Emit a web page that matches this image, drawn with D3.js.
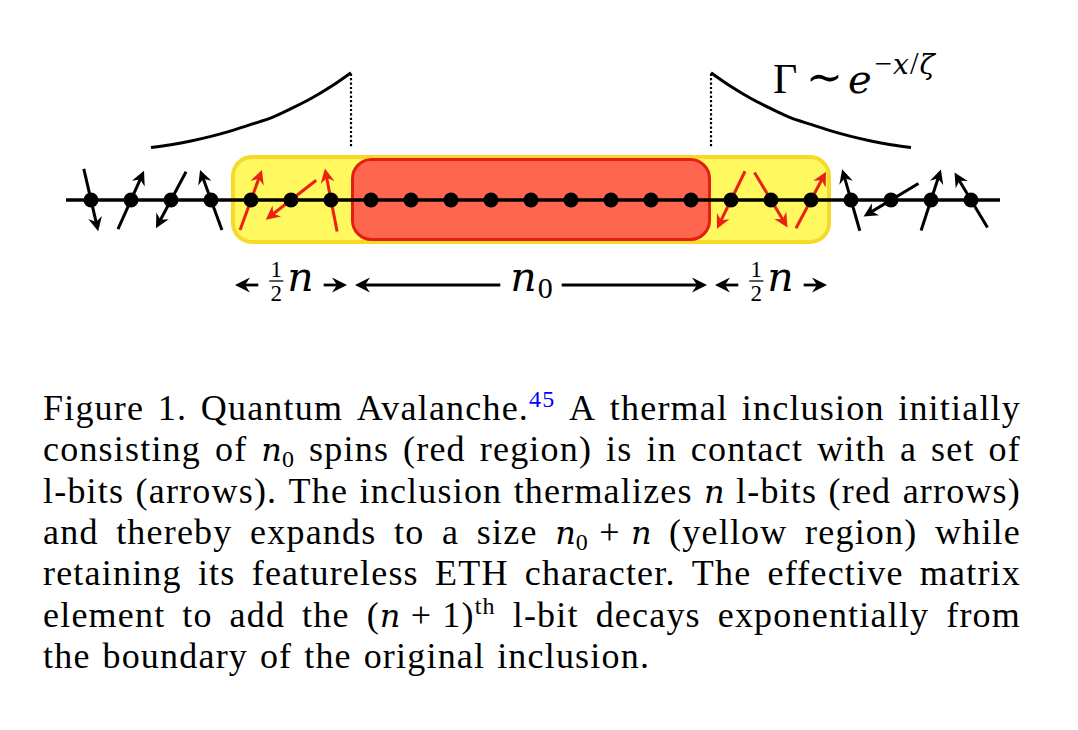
<!DOCTYPE html>
<html>
<head>
<meta charset="utf-8">
<script src="https://cdn.jsdelivr.net/npm/d3@7"></script>
<style>
  body { margin: 0; background: #fff; }
  text { font-family: "Liberation Serif", "DejaVu Serif", serif; white-space: pre; }
  .mi { font-family: "DejaVu Serif", serif; font-style: italic; }
</style>
</head>
<body>
<svg id="fig" width="1078" height="730"></svg>
<script>
// spin angles in degrees, clockwise from "up"; null = site inside the original inclusion
const spinAngles = [167, 24, 208, -20, 20, 232, -11,
  null, null, null, null, null, null, null, null, null,
  206, 149, 28, -16, 239, 18, -31];
// which l-bits got thermalized (drawn red)
const thermalized = [4, 5, 6, 16, 17, 18];

// regions in site units (boundaries sit half way between sites)
const yellowRegion = [3.5, 18.5];
const redRegion = [6.5, 15.5];

// decay of the matrix element, distance from boundary (sites) vs Gamma
const decayDist = [0, 0.5, 1, 1.5, 2, 2.5, 3, 3.5, 4, 4.5, 5];
const decayGamma = [1.00, 0.85, 0.72, 0.61, 0.51, 0.44, 0.37, 0.31, 0.26, 0.22, 0.19];

// size labels under the chain
const spanLabels = [
  { from: 3.5, to: 6.5, label: "half" },
  { from: 6.5, to: 15.5, label: "n0" },
  { from: 15.5, to: 18.5, label: "half" }
];

const R = t => ({ t, k: "rm" }), I = t => ({ t, k: "it" }),
  SUB = t => ({ t, k: "sub" }), SUP = (t, c) => ({ t, k: "sup", c });

const captionLines = [
  ["Figure", "1.", "Quantum", [R("Avalanche."), SUP("45", "#0000ff")], "A", "thermal", "inclusion", "initially"],
  ["consisting", "of", [I("n"), SUB("0")], "spins", "(red", "region)", "is", "in", "contact", "with", "a", "set", "of"],
  ["l-bits", "(arrows).", "The", "inclusion", "thermalizes", [I("n")], "l-bits", "(red", "arrows)"],
  ["and", "thereby", "expands", "to", "a", "size", [I("n"), SUB("0"), R(" + "), I("n")], "(yellow", "region)", "while"],
  ["retaining", "its", "featureless", "ETH", "character.", "The", "effective", "matrix"],
  ["element", "to", "add", "the", [R("("), I("n"), R(" + 1)"), SUP("th")], "l-bit", "decays", "exponentially", "from"],
  ["the", "boundary", "of", "the", "original", "inclusion."]
];

const svg = d3.select("#fig");
const chainY = 200;
const red = "#ea2212";

const xScale = d3.scaleLinear().domain([0, spinAngles.length - 1]).range([91, 971]);
const gammaY = d3.scaleLinear().domain([0, 1]).range([165, 72.7]);

// arrow head helper: tip point + unit direction
function headPath(tx, ty, ux, uy, L = 13, W = 6.5, N = 9) {
  const px = -uy, py = ux;
  return `M${tx},${ty}L${tx - L * ux + W * px},${ty - L * uy + W * py}` +
    `L${tx - N * ux},${ty - N * uy}L${tx - L * ux - W * px},${ty - L * uy - W * py}Z`;
}

// regions
function region(r, y0, y1, fill, stroke, sw) {
  svg.append("rect")
    .attr("x", xScale(r[0]) + sw / 2).attr("y", y0 + sw / 2)
    .attr("width", xScale(r[1]) - xScale(r[0]) - sw)
    .attr("height", y1 - y0 - sw)
    .attr("rx", 19).attr("ry", 19)
    .attr("fill", fill).attr("stroke", stroke).attr("stroke-width", sw);
}
region(yellowRegion, 155, 244, "#fff85e", "#f7d92a", 4);
region(redRegion, 158, 241, "#ff6650", "#e3200f", 3);

// chain
svg.append("line")
  .attr("x1", 66).attr("x2", 1000).attr("y1", chainY).attr("y2", chainY)
  .attr("stroke", "#000").attr("stroke-width", 3.5);

// spins
const half = 32;
spinAngles.forEach((a, i) => {
  if (a === null) return;
  const c = thermalized.includes(i) ? red : "#000";
  const rad = a * Math.PI / 180, ux = Math.sin(rad), uy = -Math.cos(rad);
  const cx = xScale(i);
  const tx = cx + half * ux, ty = chainY + half * uy;
  svg.append("line")
    .attr("x1", cx - half * ux).attr("y1", chainY - half * uy)
    .attr("x2", tx - 8 * ux).attr("y2", ty - 8 * uy)
    .attr("stroke", c).attr("stroke-width", 3);
  svg.append("path").attr("d", headPath(tx, ty, ux, uy, 14, 7, 9.5)).attr("fill", c);
});

// dots
svg.selectAll("circle.site")
  .data(spinAngles)
  .join("circle")
  .attr("class", "site")
  .attr("cx", (d, i) => xScale(i)).attr("cy", chainY).attr("r", 7.5)
  .attr("fill", "#000");

// decay curves + dotted boundary markers
const decayPts = decayDist.map((d, i) => ({ d, g: decayGamma[i] }));
const curve = side => d3.line()
  .x(p => side < 0 ? xScale(redRegion[0] - p.d) : xScale(redRegion[1] + p.d))
  .y(p => gammaY(p.g))
  .curve(d3.curveCatmullRom);
[-1, 1].forEach(side => {
  svg.append("path").attr("d", curve(side)(decayPts))
    .attr("fill", "none").attr("stroke", "#000").attr("stroke-width", 3);
  const bx = xScale(side < 0 ? redRegion[0] : redRegion[1]);
  svg.append("line")
    .attr("x1", bx).attr("x2", bx)
    .attr("y1", gammaY(decayGamma[0]) + 1).attr("y2", gammaY(decayGamma[decayGamma.length - 1]))
    .attr("stroke", "#000").attr("stroke-width", 2.2).attr("stroke-dasharray", "2.2,2.2");
});

// Gamma formula
const gf = svg.append("text").attr("x", 773).attr("y", 93).attr("font-size", 42);
gf.append("tspan").text("Γ");
gf.append("tspan").attr("font-family", "DejaVu Serif").attr("font-size", 44).attr("dy", -1).text("\u2009∼");
gf.append("tspan").attr("class", "mi").attr("font-size", 40).attr("dy", 1).attr("dx", 5).text("e");
gf.append("tspan").attr("font-size", 31).attr("dy", -19).attr("dx", 3).text("−");
gf.append("tspan").attr("font-size", 28).attr("class", "mi").attr("dx", 1).text("x");
gf.append("tspan").attr("font-size", 31).attr("dx", 1).text("/");
gf.append("tspan").attr("font-size", 28).attr("class", "mi").attr("dx", 1).text("ζ");

// span labels with double arrows
const labelY = 285;
spanLabels.forEach(s => {
  const x0 = xScale(s.from) + 4, x1 = xScale(s.to) - 4, mid = (xScale(s.from) + xScale(s.to)) / 2;
  const g = svg.append("g");
  let w;
  if (s.label === "n0") {
    const t = g.append("text").attr("y", 291).attr("font-size", 41);
    t.append("tspan").attr("class", "mi").text("n");
    t.append("tspan").attr("font-size", 30).attr("dy", 7).attr("dx", 1).text("0");
    w = t.node().getComputedTextLength();
    t.attr("x", mid - w / 2);
  } else {
    const t = g.append("text").attr("y", 291).attr("font-size", 41);
    t.append("tspan").attr("class", "mi").text("n");
    const nw = t.node().getComputedTextLength();
    const fw = 16;
    w = fw + 3 + nw;
    const left = mid - w / 2;
    t.attr("x", left + fw + 3);
    g.append("text").attr("x", left + fw / 2).attr("y", 276.5).attr("font-size", 23)
      .attr("text-anchor", "middle").text("1");
    g.append("line").attr("x1", left + 1).attr("x2", left + fw - 1).attr("y1", 281).attr("y2", 281)
      .attr("stroke", "#000").attr("stroke-width", 1.3);
    g.append("text").attr("x", left + fw / 2).attr("y", 301).attr("font-size", 23)
      .attr("text-anchor", "middle").text("2");
  }
  const gap = 10;
  const a = mid - w / 2 - gap, b = mid + w / 2 + gap;
  g.append("line").attr("x1", x0 + 8).attr("x2", a).attr("y1", labelY).attr("y2", labelY)
    .attr("stroke", "#000").attr("stroke-width", 2.8);
  g.append("line").attr("x1", b).attr("x2", x1 - 8).attr("y1", labelY).attr("y2", labelY)
    .attr("stroke", "#000").attr("stroke-width", 2.8);
  g.append("path").attr("d", headPath(x0, labelY, -1, 0, 15, 7.5, 10));
  g.append("path").attr("d", headPath(x1, labelY, 1, 0, 15, 7.5, 10));
});

// caption, justified by hand
const capX0 = 43, capX1 = 1021, capY0 = 420, capDy = 41.3, capSize = 36;
captionLines.forEach((line, li) => {
  const y = capY0 + li * capDy;
  const texts = line.map(tok => {
    const runs = typeof tok === "string" ? [R(tok)] : tok;
    const t = svg.append("text").attr("y", y).attr("font-size", capSize)
      .attr("letter-spacing", 1.2);
    let shift = 0;
    runs.forEach(r => {
      const ts = t.append("tspan").text(r.t);
      const target = r.k === "sub" ? 6 : r.k === "sup" ? -13 : 0;
      if (target !== shift) ts.attr("dy", target - shift);
      shift = target;
      if (r.k === "it") ts.attr("class", "mi").attr("font-size", 32).attr("letter-spacing", 0);
      if (r.k === "sub" || r.k === "sup") ts.attr("font-size", 24);
      if (r.c) ts.attr("fill", r.c);
    });
    return t;
  });
  const widths = texts.map(t => t.node().getComputedTextLength());
  const total = d3.sum(widths);
  const last = li === captionLines.length - 1;
  const space = last ? capSize * 0.33 : (capX1 - capX0 - total) / (texts.length - 1);
  let x = capX0;
  texts.forEach((t, i) => { t.attr("x", x); x += widths[i] + space; });
});
</script>
</body>
</html>
